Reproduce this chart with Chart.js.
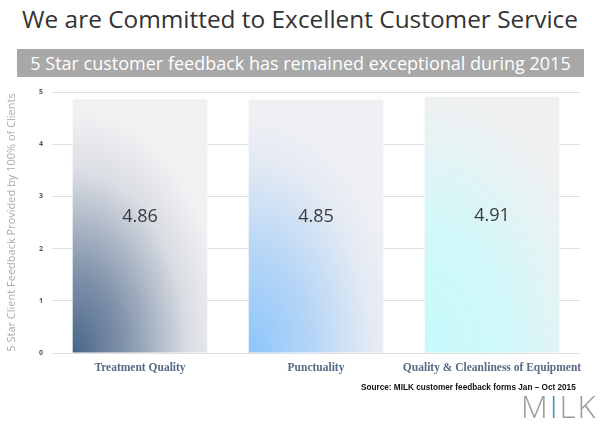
<!DOCTYPE html>
<html><head><meta charset="utf-8">
<script src="https://cdn.jsdelivr.net/npm/chart.js@4/dist/chart.umd.min.js"></script>
<style>
html,body{margin:0;padding:0;background:#fff;}
#wrap{position:relative;width:600px;height:428px;overflow:hidden;font-family:"Open Sans",sans-serif;}
#title{position:absolute;left:0;width:600px;top:2px;text-align:center;font-size:24.4px;color:#333;white-space:nowrap;}
#band{position:absolute;left:17px;width:567px;top:49px;height:28px;background:#a8a8a8;color:#fff;font-size:18px;line-height:28px;text-align:center;white-space:nowrap;}
#source{position:absolute;left:361px;top:382px;font-family:"Liberation Sans",sans-serif;font-weight:bold;font-size:8.5px;color:#111;white-space:nowrap;transform:scaleX(0.965);transform-origin:left top;}
#logo{position:absolute;left:521px;top:388px;font-family:"Open Sans",sans-serif;font-weight:300;font-size:31px;color:#9a9a9a;letter-spacing:2px;line-height:36px;white-space:nowrap;}
#logo span{color:#3b8fc0;}
canvas{position:absolute;left:0;top:0;}
</style></head>
<body><div id="wrap">
<div id="title">We are Committed to Excellent Customer Service</div>
<div id="band">5 Star customer feedback has remained exceptional during 2015</div>
<canvas id="c" width="600" height="428"></canvas>
<div id="source">Source: MILK customer feedback forms Jan – Oct 2015</div>
<div id="logo">M<span>I</span>LK</div>
</div>
<script>
const categories = ["Treatment Quality", "Punctuality", "Quality & Cleanliness of Equipment"];
const ratings = [4.86, 4.85, 4.91];
const yTicks = [0, 1, 2, 3, 4, 5];
const yAxisTitle = "5 Star Client Feedback Provided by 100% of Clients";

const gradStops = [
  [[0,"#48658a"],[0.35,"#8495ac"],[0.75,"#dadde3"],[1,"#f1f1f3"]],
  [[0,"#8cc6fb"],[0.4,"#b4d5f6"],[0.8,"#e4eaf3"],[1,"#eff0f4"]],
  [[0,"#c6fafb"],[0.5,"#d2f8f9"],[0.85,"#e8f2f3"],[1,"#eef0f1"]]
];

let patternCache = null;
function barFill(ctx) {
  const chart = ctx.chart;
  const area = chart.chartArea;
  if (!area) return "#ddd";
  const key = area.left + "," + area.right + "," + area.bottom;
  if (!patternCache || patternCache.key !== key) {
    const off = document.createElement("canvas");
    off.width = chart.width; off.height = chart.height;
    const o = off.getContext("2d");
    const xs = chart.scales.x, ys = chart.scales.y;
    const bw = (area.right - area.left) / categories.length * 0.765;
    const pats = [];
    categories.forEach((c, i) => {
      o.clearRect(0,0,off.width,off.height);
      const cx = xs.getPixelForValue(i) - bw/2;
      const by = ys.getPixelForValue(0);
      const rx = bw * (i === 2 ? 1.3 : 1.15), ry = (by - ys.getPixelForValue(ratings[i])) * (i === 2 ? 1.0 : 0.95);
      o.save();
      o.translate(cx, by);
      o.scale(1, ry / rx);
      const g = o.createRadialGradient(0, 0, 0, 0, 0, rx);
      gradStops[i].forEach(s => g.addColorStop(s[0], s[1]));
      o.fillStyle = g;
      o.fillRect(-10, -rx*1.2, rx*1.5, rx*1.3);
      o.restore();
      const img = document.createElement("canvas");
      img.width = off.width; img.height = off.height;
      img.getContext("2d").drawImage(off, 0, 0);
      pats.push(chart.ctx.createPattern(img, "no-repeat"));
    });
    patternCache = {key, pats};
  }
  return patternCache.pats[ctx.dataIndex];
}

const valueLabels = {
  id: "valueLabels",
  afterDatasetsDraw(chart) {
    const c = chart.ctx;
    const meta = chart.getDatasetMeta(0);
    c.save();
    c.font = '18px "Open Sans", sans-serif';
    c.fillStyle = "#3a3a3a";
    c.textAlign = "center";
    c.textBaseline = "middle";
    meta.data.forEach((el, i) => {
      c.fillText(ratings[i].toFixed(2), el.x, (el.y + el.base) / 2 - 9);
    });
    c.restore();
  }
};

new Chart(document.getElementById("c"), {
  type: "bar",
  data: {
    labels: categories,
    datasets: [{
      data: ratings,
      backgroundColor: barFill,
      borderWidth: 0,
      barPercentage: 0.765,
      categoryPercentage: 1
    }]
  },
  options: {
    responsive: false,
    animation: false,
    devicePixelRatio: 1,
    layout: { padding: { top: 92, right: 20, left: 0, bottom: 0 } },
    plugins: { legend: { display: false }, tooltip: { enabled: false } },
    scales: {
      x: {
        grid: { display: false },
        border: { display: false },
        ticks: { color: "#566a86", padding: 0, font: { family: '"Liberation Serif", serif', weight: "bold", size: 11.5 }, maxRotation: 0, autoSkip: false },
        afterFit(s) { s.height = 75; }
      },
      y: {
        min: 0, max: 5,
        afterBuildTicks(s) { s.ticks = yTicks.map(v => ({ value: v })); },
        grid: { color: "#e0e0e0", drawTicks: false, lineWidth: 1 },
        border: { display: false },
        ticks: { color: "#555", padding: 9, font: { family: '"Open Sans", sans-serif', size: 7, weight: "bold" } },
        title: { display: true, text: yAxisTitle, color: "#ababab", padding: { top: 5, bottom: 6 }, font: { family: '"Open Sans", sans-serif', size: 11 } },
        afterFit(s) { s.width = 52; }
      }
    }
  },
  plugins: [valueLabels]
});
</script>
</body></html>
